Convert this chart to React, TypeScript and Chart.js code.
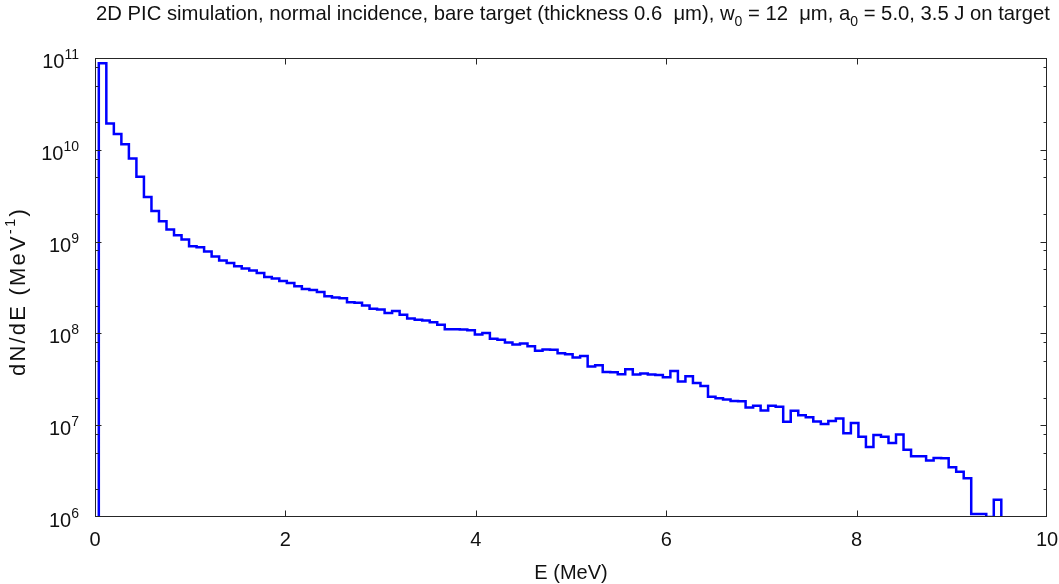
import React, { useEffect, useRef } from "react";
import { Chart, registerables } from "chart.js";

Chart.register(...registerables);

// ---- data ----
const binStart = 0.04; // MeV, left edge of first bin
const binWidth = 0.079; // MeV
const counts: number[] = [
  8.75e10, 1.94e10, 1.49e10, 1.15e10, 8.06e9, 5.08e9, 3.07e9, 2.16e9, 1.67e9, 1.355e9,
  1.175e9, 1.054e9, 8.9e8, 8.7e8, 7.8e8, 6.88e8, 6.22e8, 5.86e8, 5.39e8, 5.09e8,
  4.84e8, 4.56e8, 4.12e8, 3.96e8, 3.73e8, 3.55e8, 3.26e8, 3.05e8, 2.97e8, 2.83e8,
  2.54e8, 2.46e8, 2.41e8, 2.18e8, 2.16e8, 2.01e8, 1.86e8, 1.82e8, 1.67e8, 1.75e8,
  1.6e8, 1.45e8, 1.41e8, 1.38e8, 1.32e8, 1.24e8, 1.11e8, 1.11e8, 1.1e8, 1.08e8,
  9.7e7, 1.01e8, 8.77e7, 8.55e7, 7.94e7, 7.55e7, 7.74e7, 7.23e7, 6.46e7, 6.66e7,
  6.62e7, 6.07e7, 5.92e7, 5.45e7, 5.67e7, 4.35e7, 4.49e7, 3.79e7, 3.77e7, 3.58e7,
  4.06e7, 3.56e7, 3.65e7, 3.56e7, 3.52e7, 3.32e7, 3.89e7, 3.0e7, 3.41e7, 2.88e7,
  2.67e7, 2.04e7, 1.96e7, 1.9e7, 1.83e7, 1.82e7, 1.56e7, 1.63e7, 1.45e7, 1.63e7,
  1.59e7, 1.09e7, 1.44e7, 1.28e7, 1.22e7, 1.1e7, 1.03e7, 1.11e7, 1.18e7, 8.15e6,
  1.06e7, 7.5e6, 5.77e6, 7.83e6, 7.5e6, 6.38e6, 7.94e6, 5.41e6, 4.6e6, 4.58e6,
  4.13e6, 4.38e6, 4.36e6, 3.49e6, 3.11e6, 2.65e6, 1.08e6, 1.08e6, 1.0e6, 1.54e6,
];
const floorValue = 1e5; // below axis minimum, used for the histogram's outer edges

const xMin = 0;
const xMax = 10;
const xTicks = [0, 2, 4, 6, 8, 10];
const yMin = 1e6;
const yMax = 1e11;
const yMajorExps = [6, 7, 8, 9, 10, 11];
const yMinorMults = [2, 5, 8];

type Part = { t: string; s?: "sub" | "sup" };
const titleParts: Part[] = [
  { t: "2D PIC simulation, normal incidence, bare target (thickness 0.6  \u03BCm), w" },
  { t: "0", s: "sub" },
  { t: " = 12  \u03BCm, a" },
  { t: "0", s: "sub" },
  { t: " = 5.0, 3.5 J on target" },
];
const xTitleParts: Part[] = [{ t: "E (MeV)" }];
const yTitleParts: Part[] = [{ t: "dN/dE (MeV" }, { t: "-1", s: "sup" }, { t: ")" }];

// ---- styles ----
const FONT = "Arial, 'Liberation Sans', Helvetica, sans-serif";
const AXIS_COLOR = "#262626";
const TEXT_COLOR = "#111111";
const LINE_COLOR = "#0000ff";

function partFont(size: number, p: Part) {
  const s = p.s ? Math.round(size * 0.7) : size;
  return `${s}px ${FONT}`;
}

function richWidth(ctx: CanvasRenderingContext2D, parts: Part[], size: number) {
  let w = 0;
  for (const p of parts) {
    ctx.font = partFont(size, p);
    w += ctx.measureText(p.t).width;
  }
  return w;
}

function drawRich(
  ctx: CanvasRenderingContext2D,
  parts: Part[],
  x: number,
  y: number,
  size: number,
  align: "left" | "center" | "right"
) {
  const w = richWidth(ctx, parts, size);
  let cx = align === "left" ? x : align === "center" ? x - w / 2 : x - w;
  ctx.textAlign = "left";
  ctx.textBaseline = "alphabetic";
  for (const p of parts) {
    ctx.font = partFont(size, p);
    const dy = p.s === "sub" ? size * 0.3 : p.s === "sup" ? -size * 0.45 : 0;
    ctx.fillText(p.t, cx, y + dy);
    cx += ctx.measureText(p.t).width;
  }
}

const framePlugin = {
  id: "matlabFrame",
  afterDraw(chart: any) {
    const ctx: CanvasRenderingContext2D = chart.ctx;
    const { left, right, top, bottom } = chart.chartArea;
    const xs = chart.scales.x;
    const ys = chart.scales.y;
    ctx.save();
    // frame
    ctx.strokeStyle = AXIS_COLOR;
    ctx.lineWidth = 1;
    const L = Math.round(left) + 0.5;
    const R = Math.round(right) - 0.5;
    const T = Math.round(top) + 0.5;
    const B = Math.round(bottom) - 0.5;
    ctx.strokeRect(L, T, R - L, B - T);

    // x ticks (inward, bottom and top)
    const majorLen = 6;
    const minorLen = 3;
    ctx.beginPath();
    for (const v of xTicks) {
      const px = Math.round(xs.getPixelForValue(v)) + 0.5;
      if (v === xMin || v === xMax) continue;
      ctx.moveTo(px, B);
      ctx.lineTo(px, B - majorLen);
      ctx.moveTo(px, T);
      ctx.lineTo(px, T + majorLen);
    }
    // y ticks (inward, left and right)
    for (const e of yMajorExps) {
      const py = Math.round(ys.getPixelForValue(Math.pow(10, e))) + 0.5;
      if (e !== yMajorExps[0] && e !== yMajorExps[yMajorExps.length - 1]) {
        ctx.moveTo(L, py);
        ctx.lineTo(L + majorLen, py);
        ctx.moveTo(R, py);
        ctx.lineTo(R - majorLen, py);
      }
      if (e === yMajorExps[yMajorExps.length - 1]) continue;
      for (const m of yMinorMults) {
        const pm = Math.round(ys.getPixelForValue(m * Math.pow(10, e))) + 0.5;
        ctx.moveTo(L, pm);
        ctx.lineTo(L + minorLen, pm);
        ctx.moveTo(R, pm);
        ctx.lineTo(R - minorLen, pm);
      }
    }
    ctx.stroke();

    ctx.fillStyle = TEXT_COLOR;
    // x tick labels
    ctx.font = `20px ${FONT}`;
    ctx.textAlign = "center";
    ctx.textBaseline = "alphabetic";
    for (const v of xTicks) {
      ctx.fillText(String(v), xs.getPixelForValue(v), bottom + 28.5);
    }
    // y tick labels: 10^e
    for (const e of yMajorExps) {
      const py = ys.getPixelForValue(Math.pow(10, e));
      drawRich(ctx, [{ t: "10" }, { t: String(e), s: "sup" }], left - 16, py + 10, 20, "right");
    }
    // axis titles
    drawRich(ctx, xTitleParts, (left + right) / 2, bottom + 62, 20, "center");
    ctx.save();
    ctx.translate(25, (top + bottom) / 2 + 4);
    ctx.rotate(-Math.PI / 2);
    (ctx as any).letterSpacing = "2.2px";
    drawRich(ctx, yTitleParts, 0, 0, 22, "center");
    (ctx as any).letterSpacing = "0px";
    ctx.restore();
    // title
    drawRich(ctx, titleParts, (left + right) / 2 + 2, 20, 20.25, "center");
    ctx.restore();
  },
};

export default function App() {
  const ref = useRef<HTMLCanvasElement>(null);
  useEffect(() => {
    if (!ref.current) return;
    const n = counts.length;
    const endEdge = binStart + n * binWidth;
    // each point holds the value of the bin starting at its x; 'before' stepping
    // draws the previous point's value horizontally up to the next edge.
    const pts = [
      { x: binStart, y: floorValue },
      ...counts.map((v, i) => ({ x: binStart + i * binWidth, y: v })),
      { x: endEdge, y: counts[n - 1] },
      { x: endEdge, y: floorValue },
    ];
    const chart = new Chart(ref.current, {
      type: "line",
      data: {
        datasets: [
          {
            data: pts,
            borderColor: LINE_COLOR,
            borderWidth: 2.5,
            pointRadius: 0,
            stepped: "before",
            fill: false,
            clip: 0,
          } as any,
        ],
      },
      options: {
        animation: false,
        responsive: false,
        maintainAspectRatio: false,
        layout: { padding: { left: 95, right: 12, top: 58, bottom: 67 } },
        plugins: {
          legend: { display: false },
          tooltip: { enabled: false },
          title: { display: false },
        },
        scales: {
          x: { type: "linear", min: xMin, max: xMax, display: false },
          y: { type: "logarithmic", min: yMin, max: yMax, display: false },
        },
      },
      plugins: [framePlugin],
    });
    return () => chart.destroy();
  }, []);
  return (
    <div style={{ position: "absolute", left: 0, top: 0, width: 1059, height: 584, background: "#fff" }}>
      <canvas ref={ref} width={1059} height={584} style={{ display: "block" }} />
    </div>
  );
}
